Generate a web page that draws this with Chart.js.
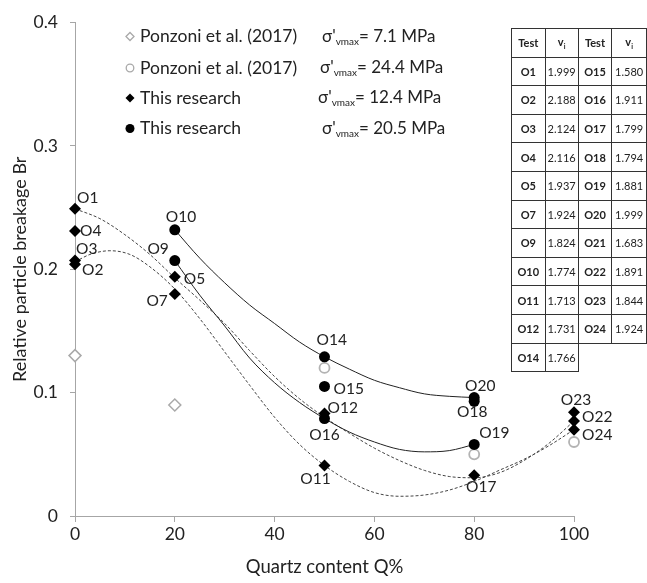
<!DOCTYPE html>
<html>
<head>
<meta charset="utf-8">
<script src="https://cdn.jsdelivr.net/npm/chart.js@4.4.0/dist/chart.umd.min.js"></script>
<style>
  body { margin: 0; background: #fff; }
  #wrap { position: relative; width: 647px; height: 583px; overflow: hidden; }
  #c { position: absolute; left: 0; top: 0; }
  #tbl { position: absolute; left: 511px; top: 28px; border-collapse: collapse;
         font-family: Lato, sans-serif; font-size: 11px; color: #222; table-layout: fixed; }
  #tbl td { border: 1px solid #333; height: 27.6px; padding: 0; text-align: center; }
  #tbl td.b { font-weight: bold; }
  #tbl td.none { border: none; }
</style>
</head>
<body>
<div id="wrap">
  <canvas id="c" width="647" height="583"></canvas>
  <table id="tbl"></table>
</div>
<script>
// Ponzoni et al. (2017), 7.1 MPa
var ponz71Q = [0, 20];
var ponz71Br = [0.130, 0.090];
// Ponzoni et al. (2017), 24.4 MPa
var ponz244Q = [50, 80, 100];
var ponz244Br = [0.120, 0.050, 0.060];
// This research, 12.4 MPa
var res124Names = ['O1', 'O4', 'O3', 'O2', 'O5', 'O7', 'O12', 'O11', 'O17', 'O23', 'O22', 'O24'];
var res124Q = [0, 0, 0, 0, 20, 20, 50, 50, 80, 100, 100, 100];
var res124Br = [0.249, 0.231, 0.207, 0.204, 0.194, 0.180, 0.083, 0.041, 0.033, 0.084, 0.077, 0.070];
// This research, 20.5 MPa
var res205Names = ['O10', 'O9', 'O14', 'O15', 'O16', 'O20', 'O18', 'O19'];
var res205Q = [20, 20, 50, 50, 50, 80, 80, 80];
var res205Br = [0.232, 0.207, 0.129, 0.105, 0.079, 0.096, 0.093, 0.058];

// trend lines
var solidUpQ = [20, 25, 30, 35, 40, 45, 50, 55, 60, 65, 70, 75, 80];
var solidUpBr = [0.232, 0.209, 0.189, 0.171, 0.156, 0.141, 0.129, 0.119, 0.110, 0.104, 0.099, 0.097, 0.096];
var solidLowQ = [20, 25, 30, 35, 40, 45, 50, 55, 60, 65, 70, 75, 80];
var solidLowBr = [0.207, 0.179, 0.154, 0.128, 0.108, 0.092, 0.079, 0.068, 0.060, 0.054, 0.052, 0.053, 0.058];
var dashUpQ = [0, 5, 10, 15, 20, 25, 30, 35, 40, 45, 50, 55, 60, 65, 70, 75, 80, 85, 90, 95, 100];
var dashUpBr = [0.249, 0.241, 0.228, 0.212, 0.193, 0.175, 0.156, 0.134, 0.113, 0.095, 0.080, 0.067, 0.055, 0.045, 0.037, 0.032, 0.031, 0.035, 0.045, 0.059, 0.077];
var dashLowQ = [0, 3, 7, 11, 15, 20, 25, 30, 35, 40, 45, 50, 55, 60, 65, 70, 75, 80, 85, 90, 95, 100];
var dashLowBr = [0.206, 0.212, 0.215, 0.212, 0.202, 0.184, 0.160, 0.133, 0.106, 0.080, 0.058, 0.041, 0.028, 0.019, 0.016, 0.017, 0.021, 0.028, 0.037, 0.046, 0.057, 0.070];

// table
var tblTestL = ['O1', 'O2', 'O3', 'O4', 'O5', 'O7', 'O9', 'O10', 'O11', 'O12', 'O14'];
var tblViL = [1.999, 2.188, 2.124, 2.116, 1.937, 1.924, 1.824, 1.774, 1.713, 1.731, 1.766];
var tblTestR = ['O15', 'O16', 'O17', 'O18', 'O19', 'O20', 'O21', 'O22', 'O23', 'O24'];
var tblViR = [1.580, 1.911, 1.799, 1.794, 1.881, 1.999, 1.683, 1.891, 1.844, 1.924];

var xTicks = [0, 20, 40, 60, 80, 100];
var yTicks = [0, 0.1, 0.2, 0.3, 0.4];

var legendRows = [
  { text: 'Ponzoni et al. (2017)', sig: '= 7.1 MPa' },
  { text: 'Ponzoni et al. (2017)', sig: '= 24.4 MPa' },
  { text: 'This research', sig: '= 12.4 MPa' },
  { text: 'This research', sig: '= 20.5 MPa' }
];

// label offsets: dx, dy, align
var labelPos = {
  O1: [2, -11, 'left'], O4: [5, 0, 'left'], O3: [1, -12, 'left'], O2: [7, 6, 'left'],
  O10: [-9, -13, 'left'], O9: [-6, -12, 'right'], O5: [9, 2, 'left'], O7: [-7, 7, 'right'],
  O14: [-8, -17, 'left'], O15: [9, 3, 'left'], O12: [3, -6, 'left'], O16: [0, 16, 'center'],
  O11: [-9, 14, 'center'], O20: [6, -12, 'center'], O18: [-2, 11, 'center'], O19: [5, -11, 'left'],
  O17: [7, 12, 'center'], O23: [2, -12, 'center'], O22: [8, -4, 'left'], O24: [8, 5, 'left']
};

function pts(q, br) {
  return q.map(function (v, i) { return { x: v, y: br[i] }; });
}

// build table
var tbl = document.getElementById('tbl');
var html = '<colgroup><col style="width:36px"><col style="width:34px"><col style="width:36px"><col style="width:36px"></colgroup>';
html += '<tr><td class="b">Test</td><td class="b">v<sub style="font-size:7px">i</sub></td><td class="b">Test</td><td class="b">v<sub style="font-size:7px">i</sub></td></tr>';
for (var i = 0; i < tblTestL.length; i++) {
  html += '<tr><td class="b">' + tblTestL[i] + '</td><td>' + tblViL[i].toFixed(3) + '</td>';
  if (i < tblTestR.length) {
    html += '<td class="b">' + tblTestR[i] + '</td><td>' + tblViR[i].toFixed(3) + '</td>';
  } else {
    html += '<td class="none"></td><td class="none"></td>';
  }
  html += '</tr>';
}
tbl.innerHTML = html;

var FONT = 'Lato, sans-serif';
var grayOpen = '#a9a9a9';

var labelPlugin = {
  id: 'labels',
  afterDatasetsDraw: function (chart) {
    var c = chart.ctx;
    c.save();
    c.font = '15.5px ' + FONT;
    c.fillStyle = '#222';
    c.textBaseline = 'middle';
    chart.data.datasets.forEach(function (ds, di) {
      if (!ds.names) return;
      var meta = chart.getDatasetMeta(di);
      meta.data.forEach(function (el, i) {
        var p = labelPos[ds.names[i]];
        c.textAlign = p[2];
        c.fillText(ds.names[i], el.x + p[0], el.y + p[1]);
      });
    });
    c.restore();
  }
};

var legendPlugin = {
  id: 'customLegend',
  afterDraw: function (chart) {
    var c = chart.ctx;
    var ys = [36.5, 68, 98, 128.5];
    var sx = [322, 320, 318, 322];
    c.save();
    c.textBaseline = 'middle';
    c.fillStyle = '#222';
    legendRows.forEach(function (r, i) {
      var y = ys[i];
      // marker
      c.beginPath();
      if (i === 0 || i === 2) {
        var s = i === 0 ? 4 : 4.5;
        c.moveTo(130 - s, y); c.lineTo(130, y - s); c.lineTo(130 + s, y); c.lineTo(130, y + s); c.closePath();
      } else {
        c.arc(130, y, i === 1 ? 3.8 : 4.5, 0, Math.PI * 2);
      }
      if (i < 2) {
        c.strokeStyle = grayOpen; c.lineWidth = 1.3; c.stroke();
      } else {
        c.fillStyle = '#000'; c.fill(); c.fillStyle = '#222';
      }
      c.font = '17.5px ' + FONT;
      c.textAlign = 'left';
      c.fillText(r.text, 140, y);
      var x = sx[i];
      c.font = '17px ' + FONT;
      c.fillText("σ'", x, y);
      x += c.measureText("σ'").width;
      c.font = '10px ' + FONT;
      c.fillText('vmax', x, y + 5);
      x += c.measureText('vmax').width;
      c.font = '17px ' + FONT;
      c.fillText(r.sig, x, y);
    });
    c.restore();
  }
};

function lineDs(q, br, dashed) {
  return {
    data: pts(q, br), showLine: true, pointRadius: 0, borderColor: dashed ? '#444' : '#222',
    borderWidth: 1, borderDash: dashed ? [3, 2] : [], cubicInterpolationMode: 'monotone',
    clip: false, order: 10
  };
}

new Chart(document.getElementById('c'), {
  type: 'scatter',
  data: {
    datasets: [
      { data: pts(ponz71Q, ponz71Br), pointStyle: 'rectRot', pointRadius: 6, backgroundColor: '#fff',
        borderColor: grayOpen, borderWidth: 1.5, clip: false, order: 1 },
      { data: pts(ponz244Q, ponz244Br), pointStyle: 'circle', pointRadius: 5, backgroundColor: '#fff',
        borderColor: '#b3b3b3', borderWidth: 1.8, clip: false, order: 1 },
      { data: pts(res124Q, res124Br), names: res124Names, pointStyle: 'rectRot', pointRadius: 6,
        backgroundColor: '#000', borderColor: '#000', borderWidth: 0, clip: false, order: 1 },
      { data: pts(res205Q, res205Br), names: res205Names, pointStyle: 'circle', pointRadius: 5.5,
        backgroundColor: '#000', borderColor: '#000', borderWidth: 0, clip: false, order: 0 },
      lineDs(solidUpQ, solidUpBr, false),
      lineDs(solidLowQ, solidLowBr, false),
      lineDs(dashUpQ, dashUpBr, true),
      lineDs(dashLowQ, dashLowBr, true)
    ]
  },
  options: {
    responsive: false,
    animation: false,
    layout: { padding: { left: 0, right: 73, top: 18, bottom: 0 } },
    plugins: { legend: { display: false }, tooltip: { enabled: false } },
    scales: {
      x: {
        type: 'linear', min: 0, max: 100,
        afterFit: function (s) { s.height = 67; },
        afterBuildTicks: function (s) { s.ticks = xTicks.map(function (v) { return { value: v }; }); },
        ticks: { font: { family: FONT, size: 17.5 }, color: '#222', padding: 2, maxRotation: 0 },
        grid: { drawOnChartArea: false, drawTicks: true, tickLength: 6, color: '#a6a6a6' },
        border: { color: '#a6a6a6', width: 1 },
        title: { display: true, text: 'Quartz content Q%', font: { family: FONT, size: 18.5 }, color: '#222',
                 padding: { top: 0, bottom: 5 } }
      },
      y: {
        type: 'linear', min: 0, max: 0.4,
        afterFit: function (s) { s.width = 75; },
        afterBuildTicks: function (s) { s.ticks = yTicks.map(function (v) { return { value: v }; }); },
        ticks: { font: { family: FONT, size: 17.5 }, color: '#222', padding: 12 },
        grid: { drawOnChartArea: false, drawTicks: true, tickLength: 5, color: '#a6a6a6' },
        border: { color: '#a6a6a6', width: 1 },
        title: { display: true, text: 'Relative particle breakage Br', font: { family: FONT, size: 18 }, color: '#222',
                 padding: { top: 9, bottom: 0 } }
      }
    }
  },
  plugins: [labelPlugin, legendPlugin]
});
</script>
</body>
</html>
